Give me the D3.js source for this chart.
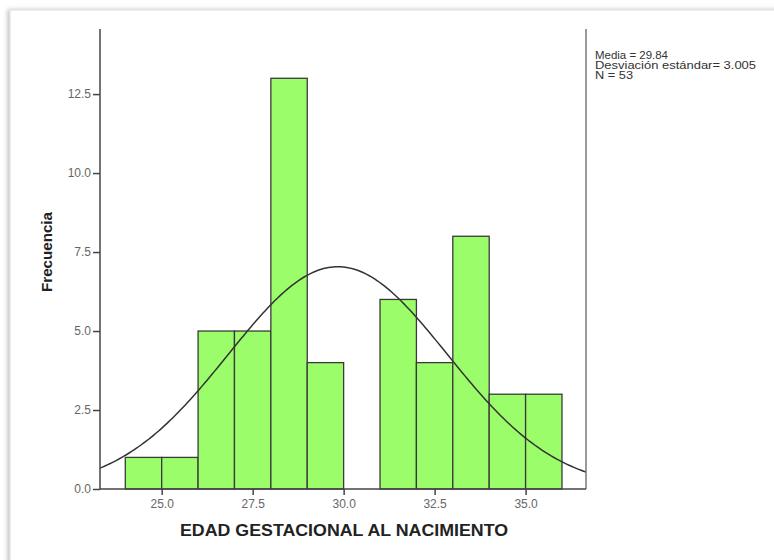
<!DOCTYPE html>
<html><head><meta charset="utf-8">
<script src="https://cdn.jsdelivr.net/npm/d3@7"></script>
<style>body{margin:0;background:#fff;} svg{display:block;}</style>
</head><body>
<script>
const binStarts = [24,25,26,27,28,29,30,31,32,33,34,35];
const counts    = [1,1,5,5,13,4,0,6,4,8,3,3];
const xTicks = [25.0,27.5,30.0,32.5,35.0];
const yTicks = [0.0,2.5,5.0,7.5,10.0,12.5];
const stats = {mean:29.84, sd:3.005, n:53};
const legendLines = ["Media = 29.84","Desviación estándar= 3.005","N = 53"];
const xLabel = "EDAD GESTACIONAL AL NACIMIENTO";
const yLabel = "Frecuencia";

const W=774,H=560;
const FONT="Arial, 'Liberation Sans', sans-serif";
const svg=d3.select("body").append("svg").attr("width",W).attr("height",H);
const defs=svg.append("defs");
const f=defs.append("filter").attr("id","sh").attr("x","-5%").attr("y","-5%").attr("width","110%").attr("height","110%");
f.append("feDropShadow").attr("dx",-2).attr("dy",0).attr("stdDeviation",2).attr("flood-color","#000").attr("flood-opacity",0.25);
svg.append("rect").attr("x",10).attr("y",10).attr("width",W+20).attr("height",H+20)
  .attr("fill","#fff").attr("stroke","#dcdcdc").attr("stroke-width",1).attr("filter","url(#sh)");

const L=100,R=586,T=29,B=489;
const x=d3.scaleLinear().domain([23.305,36.66]).range([L,R]);
const y=d3.scaleLinear().domain([0,14.56]).range([B,T]);

const g=svg.append("g");
g.selectAll("rect.bar").data(binStarts.map((s,i)=>({s,c:counts[i]})).filter(d=>d.c>0))
 .enter().append("rect").attr("class","bar")
 .attr("x",d=>x(d.s)).attr("width",d=>x(d.s+1)-x(d.s))
 .attr("y",d=>y(d.c)).attr("height",d=>y(0)-y(d.c))
 .attr("fill","#9cfd6a").attr("stroke","#3a3a3a").attr("stroke-width",1.3);

// normal curve from stated mean / sd / N
const pdf=v=>stats.n*1/(stats.sd*Math.sqrt(2*Math.PI))*Math.exp(-0.5*((v-stats.mean)/stats.sd)**2);
const xs=d3.range(0,201).map(i=>x.domain()[0]+(x.domain()[1]-x.domain()[0])*i/200);
g.append("path").datum(xs).attr("fill","none").attr("stroke","#333").attr("stroke-width",1.5)
 .attr("d",d3.line().x(v=>x(v)).y(v=>y(pdf(v))));

// axes
const ax=svg.append("g").attr("stroke","#444").attr("stroke-width",1.5).attr("fill","none");
ax.append("line").attr("x1",L).attr("x2",L).attr("y1",T).attr("y2",B);
ax.append("line").attr("x1",R).attr("x2",R).attr("y1",T).attr("y2",B).attr("stroke","#777");
ax.append("line").attr("x1",L).attr("x2",R).attr("y1",B).attr("y2",B);

const yAxis=svg.append("g").attr("transform",`translate(${L},0)`)
 .call(d3.axisLeft(y).tickValues(yTicks).tickFormat(d3.format(".1f")).tickSize(7).tickPadding(2));
yAxis.select(".domain").remove();
yAxis.selectAll("line").attr("stroke","#444").attr("stroke-width",1.5);
yAxis.selectAll("text").attr("font-family",FONT).attr("font-size",12).attr("fill","#666");

const xAxis=svg.append("g").attr("transform",`translate(0,${B})`)
 .call(d3.axisBottom(x).tickValues(xTicks).tickFormat(d3.format(".1f")).tickSize(6).tickPadding(4));
xAxis.select(".domain").remove();
xAxis.selectAll("line").attr("stroke","#444").attr("stroke-width",1.5);
xAxis.selectAll("text").attr("font-family",FONT).attr("font-size",12).attr("fill","#666");

svg.append("text").attr("x",344).attr("y",536).attr("text-anchor","middle")
 .attr("font-family",FONT).attr("font-weight","bold").attr("font-size",16).attr("fill","#222")
 .attr("textLength",328).attr("lengthAdjust","spacingAndGlyphs")
 .text(xLabel);
svg.append("text").attr("transform",`translate(52,252) rotate(-90)`).attr("text-anchor","middle")
 .attr("font-family",FONT).attr("font-weight","bold").attr("font-size",15).attr("fill","#222")
 .attr("textLength",80).attr("lengthAdjust","spacingAndGlyphs")
 .text(yLabel);

const legW=[73,161,38];
svg.append("g").selectAll("text").data(legendLines).enter().append("text")
 .attr("x",595).attr("y",(d,i)=>59+i*10)
 .attr("font-family",FONT).attr("font-size",10).attr("fill","#333")
 .attr("textLength",(d,i)=>legW[i]).attr("lengthAdjust","spacingAndGlyphs")
 .text(d=>d);
</script>
</body></html>
